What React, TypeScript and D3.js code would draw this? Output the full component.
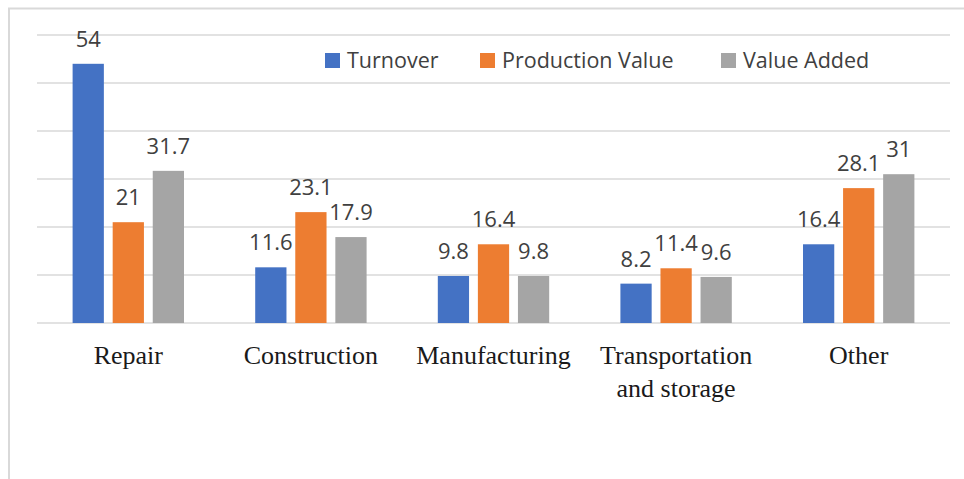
import * as d3 from 'd3'

const categories = ['Repair', 'Construction', 'Manufacturing', 'Transportation and storage', 'Other']
const categoryLines = [['Repair'], ['Construction'], ['Manufacturing'], ['Transportation', 'and storage'], ['Other']]
const seriesNames = ['Turnover', 'Production Value', 'Value Added']
const turnover = [54, 11.6, 9.8, 8.2, 16.4]
const productionValue = [21, 23.1, 16.4, 11.4, 28.1]
const valueAdded = [31.7, 17.9, 9.8, 9.6, 31]
const yTicks = [0, 10, 20, 30, 40, 50, 60]

const colors = ['#4472C4', '#ED7D31', '#A5A5A5']

export default function App() {
  const width = 964
  const height = 479
  const marginLeft = 37
  const marginRight = 14
  const baseline = 323
  const top = 35

  const series = [turnover, productionValue, valueAdded]

  const x = d3.scaleBand(categories, [marginLeft, width - marginRight]).paddingInner(0.39).paddingOuter(0.195)
  const xInner = d3.scaleBand(seriesNames, [0, x.bandwidth()]).paddingInner(0.22)
  const y = d3.scaleLinear([0, 60], [baseline, top])

  const legendX = [325, 480, 721]

  return (
    <svg width={width} height={height} style={{position: 'absolute', left: 0, top: 0, background: '#fff'}}>
      {/* frame */}
      <line x1={8} x2={width} y1={8.5} y2={8.5} stroke="#d9d9d9" strokeWidth={2} />
      <line x1={9} x2={9} y1={8} y2={height} stroke="#d9d9d9" strokeWidth={2} />

      {yTicks.map(t => (
        <line key={t} x1={marginLeft} x2={width - marginRight} y1={y(t)} y2={y(t)} stroke="#d9d9d9" strokeWidth={1.5} />
      ))}

      {categories.map((c, i) => (
        <g key={c} transform={`translate(${x(c)},0)`}>
          {series.map((s, j) => (
            <g key={j}>
              <rect x={xInner(seriesNames[j])} y={y(s[i])} width={xInner.bandwidth()} height={baseline - y(s[i])} fill={colors[j]} />
              <text x={(xInner(seriesNames[j]) ?? 0) + xInner.bandwidth() / 2} y={y(s[i]) - 17} textAnchor="middle"
                fontFamily="Open Sans" fontSize={22} fill="#404040">{s[i]}</text>
            </g>
          ))}
        </g>
      ))}

      {categories.map((c, i) => (
        <text key={c} x={(x(c) ?? 0) + x.bandwidth() / 2} y={364} textAnchor="middle"
          fontFamily="Liberation Serif" fontSize={26} fill="#1a1a1a">
          {categoryLines[i].map((l, k) => (
            <tspan key={k} x={(x(c) ?? 0) + x.bandwidth() / 2} dy={k === 0 ? 0 : 33}>{l}</tspan>
          ))}
        </text>
      ))}

      {seriesNames.map((n, j) => (
        <g key={n}>
          <rect x={legendX[j]} y={53} width={15} height={15} fill={colors[j]} />
          <text x={legendX[j] + 22} y={68} fontFamily="Open Sans" fontSize={21.5} fill="#404040">{n}</text>
        </g>
      ))}
    </svg>
  )
}
